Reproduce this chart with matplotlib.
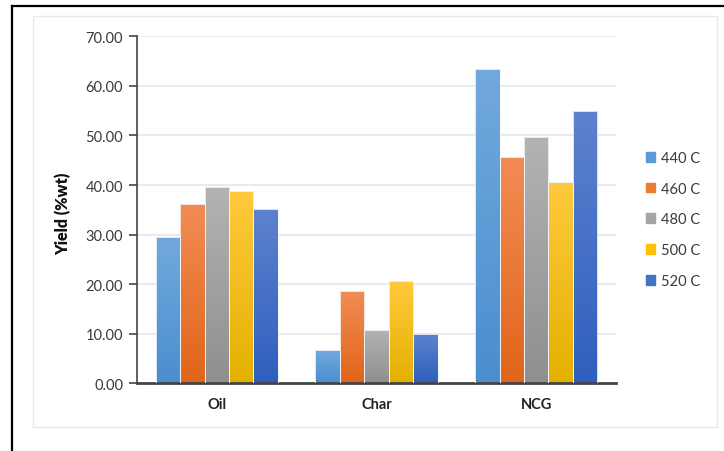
import numpy as np
import matplotlib
matplotlib.use('Agg')
import matplotlib.pyplot as plt
from matplotlib.colors import LinearSegmentedColormap
from matplotlib.patches import Rectangle
from matplotlib.lines import Line2D

plt.rcParams['font.family'] = ['Lato', 'DejaVu Sans']

categories = ['Oil', 'Char', 'NCG']
temps = ['440 C', '460 C', '480 C', '500 C', '520 C']
yield_440 = [29.45, 6.65, 63.4]
yield_460 = [36.1, 18.55, 45.6]
yield_480 = [39.5, 10.7, 49.6]
yield_500 = [38.7, 20.6, 40.7]
yield_520 = [35.2, 9.9, 54.9]
series = [yield_440, yield_460, yield_480, yield_500, yield_520]

# top colour, bottom colour, legend colour
top_cols = ['#72a9dd', '#f28c55', '#b3b3b3', '#ffca3d', '#5e82cf']
bot_cols = ['#4a8ecf', '#e0651a', '#8f8f8f', '#e3b100', '#2f5fbd']
leg_cols = ['#5b9bd5', '#ed7d31', '#a5a5a5', '#ffc000', '#4472c4']

fig = plt.figure(figsize=(7.24, 4.52), dpi=100)
ax = fig.add_axes([0.1892, 0.1498, 0.8508 - 0.1892, 0.9175 - 0.1498])

# outer frame lines and inner light frame
fig.add_artist(Line2D([12 / 724, 12 / 724], [0, 1 - 7 / 452], color='black', lw=1.6, transform=fig.transFigure))
fig.add_artist(Line2D([12 / 724, 1], [1 - 7 / 452, 1 - 7 / 452], color='black', lw=1.6, transform=fig.transFigure))
fig.add_artist(Rectangle((33 / 724, 1 - 428 / 452), (717 - 33) / 724, (428 - 17) / 452,
                         fill=False, edgecolor='#e6e9ee', lw=1.0, transform=fig.transFigure))

x = np.arange(len(categories))
width = 0.153
grad = np.linspace(1, 0, 256).reshape(-1, 1)

for i, vals in enumerate(series):
    offs = x + (i - 2) * width
    bars = ax.bar(offs, vals, width, color='none', edgecolor='#f4f6fa', linewidth=0.6, zorder=3)
    cmap = LinearSegmentedColormap.from_list('g%d' % i, [bot_cols[i], top_cols[i]])
    for b in bars:
        im = ax.imshow(grad, cmap=cmap, aspect='auto', zorder=2.5,
                       extent=[b.get_x(), b.get_x() + b.get_width(), 0, b.get_height()],
                       origin='upper')
        im.set_clip_path(b)

ax.set_xlim(-0.5, 2.5)
ax.set_ylim(0, 70)
ax.set_yticks(np.arange(0, 71, 10))
ax.set_yticklabels(['%.2f' % v for v in np.arange(0, 71, 10)], fontsize=10.5, color='#3a3a3a')
ax.set_xticks(x)
ax.set_xticklabels(categories, fontsize=10.5, fontweight='bold', color='#222222')
ax.tick_params(axis='x', length=0, pad=10)
ax.tick_params(axis='y', length=6, width=1.2, color='#444444', pad=4)
ax.grid(axis='y', color='#e3e7ee', lw=1.2, zorder=0)
ax.set_axisbelow(True)
for s in ['top', 'right']:
    ax.spines[s].set_visible(False)
ax.spines['left'].set_color('#444444')
ax.spines['left'].set_linewidth(1.2)
ax.spines['bottom'].set_color('#444444')
ax.spines['bottom'].set_linewidth(2)

ax.set_ylabel('Yield (%wt)', fontsize=11.5, fontweight='heavy', color='#111111')
ax.yaxis.set_label_coords(-0.136, 0.49)

handles = [Rectangle((0, 0), 1, 1, color=c) for c in leg_cols]
leg = fig.legend(handles, temps, loc='upper left', bbox_to_anchor=(640 / 724, 1 - 146 / 452),
                 frameon=False, fontsize=10.5, handlelength=0.65, handleheight=0.65,
                 handletextpad=0.4, labelspacing=1.15, borderaxespad=0)
for t in leg.get_texts():
    t.set_color('#3a3a3a')

fig.savefig('out.png', dpi=100)
